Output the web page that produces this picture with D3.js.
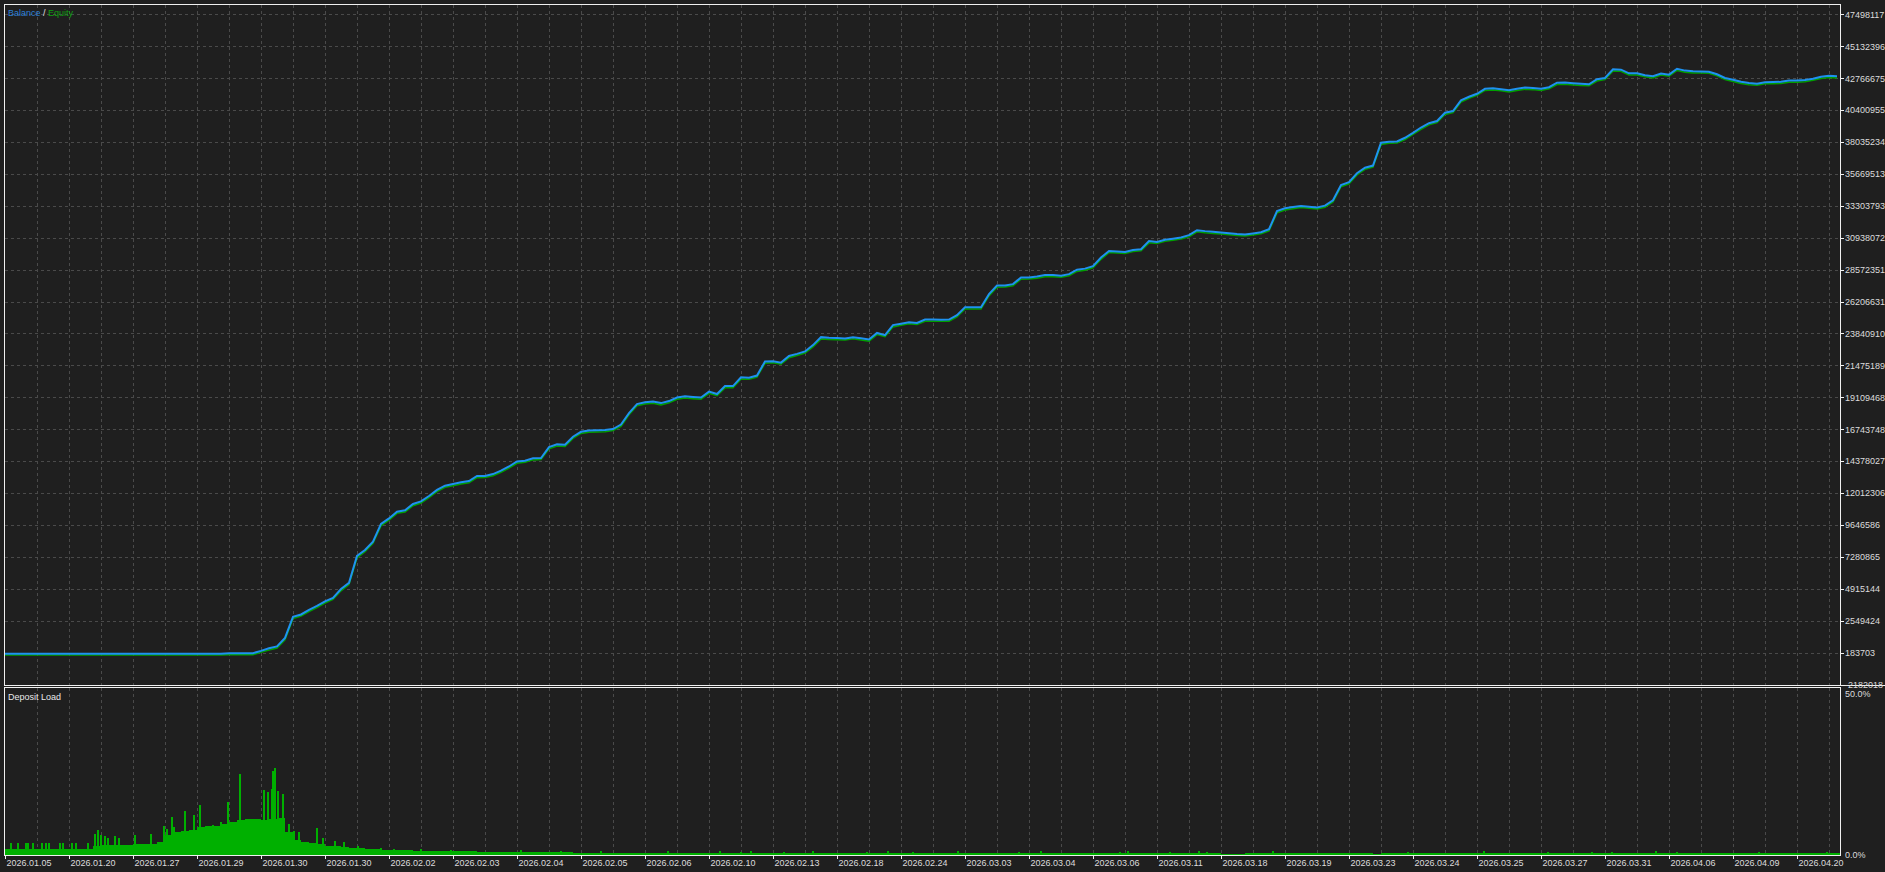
<!DOCTYPE html>
<html><head><meta charset="utf-8">
<script src="https://cdn.jsdelivr.net/npm/d3@7"></script>
<style>
html,body{margin:0;padding:0;background:#1f1f1f;overflow:hidden}
svg{display:block}
text{font-family:"Liberation Sans",Arial,sans-serif;font-size:9px}
</style></head>
<body>
<svg id="chart" width="1885" height="872"></svg>
<script>
// ---------- data ----------
// balance / equity in millions, one sample every 8 deals
const sampleStep = 8;
const balance = [
0.10,0.10,0.10,0.10,0.10,0.10,0.10,0.10,0.10,0.10,0.10,0.10,0.10,0.10,0.10,0.10,0.10,0.10,0.10,0.10,
0.10,0.10,0.10,0.10,0.10,0.10,0.10,0.10,0.14,0.14,0.14,0.14,0.31,0.50,0.64,1.27,2.83,3.01,3.35,3.64,
3.98,4.24,4.90,5.35,7.35,7.79,8.41,9.72,10.13,10.63,10.73,11.20,11.39,11.79,12.24,12.56,12.68,12.81,12.90,13.28,
13.28,13.42,13.67,13.98,14.35,14.41,14.59,14.61,15.42,15.62,15.59,16.19,16.55,16.64,16.66,16.68,16.76,17.09,17.94,18.61,
18.74,18.79,18.68,18.83,19.09,19.18,19.13,19.09,19.53,19.35,19.94,19.94,20.59,20.56,20.72,21.76,21.79,21.68,22.17,22.33,
22.51,22.98,23.57,23.52,23.50,23.47,23.57,23.48,23.40,23.88,23.72,24.46,24.57,24.68,24.62,24.87,24.87,24.86,24.87,25.20,
25.78,25.78,25.78,26.76,27.39,27.40,27.50,28.00,28.00,28.06,28.17,28.17,28.13,28.24,28.57,28.65,28.83,29.47,29.96,29.92,
29.89,30.03,30.09,30.69,30.63,30.79,30.87,30.96,31.13,31.50,31.43,31.38,31.33,31.28,31.22,31.18,31.26,31.35,31.57,32.91,
33.12,33.21,33.30,33.24,33.19,33.32,33.72,34.85,35.06,35.72,36.13,36.29,37.98,38.06,38.08,38.35,38.72,39.11,39.43,39.59,
40.21,40.33,41.13,41.39,41.61,41.98,42.02,41.95,41.87,41.98,42.07,42.04,41.98,42.10,42.43,42.44,42.39,42.35,42.32,42.69,
42.78,43.43,43.40,43.13,43.13,42.99,42.91,43.12,43.03,43.47,43.33,43.28,43.27,43.25,43.06,42.78,42.65,42.50,42.41,42.36,
42.47,42.48,42.50,42.59,42.59,42.63,42.73,42.87,42.94,42.91];
const equity = [
0.00,0.00,0.00,0.00,0.00,0.00,0.00,0.00,0.00,0.00,0.00,0.00,0.00,0.00,0.00,0.00,0.00,0.00,0.00,0.00,
0.00,0.00,0.00,0.00,0.00,0.00,0.00,0.00,0.03,0.03,0.03,0.03,0.20,0.38,0.52,1.12,2.70,2.90,3.22,3.52,
3.86,4.12,4.76,5.22,7.20,7.66,8.28,9.58,10.01,10.51,10.61,11.07,11.27,11.67,12.12,12.44,12.56,12.69,12.78,13.15,
13.16,13.30,13.55,13.86,14.22,14.29,14.47,14.49,15.29,15.50,15.47,16.06,16.43,16.52,16.54,16.56,16.64,16.96,17.81,18.49,
18.62,18.67,18.55,18.71,18.96,19.06,19.01,18.97,19.40,19.23,19.81,19.82,20.46,20.44,20.60,21.63,21.67,21.56,22.04,22.21,
22.39,22.85,23.44,23.40,23.38,23.35,23.45,23.36,23.27,23.76,23.60,24.33,24.45,24.56,24.50,24.75,24.75,24.74,24.75,25.07,
25.66,25.66,25.65,26.63,27.27,27.28,27.38,27.87,27.88,27.94,28.05,28.05,28.01,28.12,28.44,28.53,28.71,29.34,29.84,29.80,
29.77,29.91,29.97,30.56,30.51,30.67,30.75,30.84,31.00,31.38,31.31,31.26,31.21,31.16,31.10,31.06,31.14,31.23,31.44,32.78,
33.00,33.09,33.18,33.12,33.07,33.20,33.59,34.72,34.94,35.59,36.01,36.17,37.85,37.94,37.96,38.22,38.60,38.98,39.31,39.47,
40.08,40.21,41.00,41.27,41.49,41.86,41.90,41.83,41.75,41.86,41.95,41.92,41.86,41.98,42.30,42.32,42.27,42.23,42.20,42.56,
42.66,43.30,43.28,43.01,43.01,42.87,42.79,43.00,42.91,43.34,43.21,43.16,43.15,43.13,42.94,42.66,42.53,42.38,42.29,42.24,
42.35,42.36,42.38,42.47,42.47,42.51,42.61,42.75,42.82,42.79];
// deposit load (%), same sampling
const depositLoad = [
1.7,1.7,1.7,1.7,1.7,1.7,1.7,1.7,1.7,1.7,1.8,2.8,3.0,3.0,3.1,3.1,3.3,3.4,3.4,4.0,
6.0,6.8,7.2,7.6,8.5,8.6,8.8,9.4,10.0,10.6,10.8,10.7,10.5,10.8,11.0,7.0,4.5,3.8,3.5,3.2,
2.8,2.6,2.4,2.2,2.0,1.8,1.7,1.6,1.5,1.4,1.4,1.3,1.3,1.2,1.2,1.2,1.1,1.1,1.1,1.0,
1.0,1.0,1.0,0.9,0.9,0.9,0.9,0.9,0.9,0.8,0.8,0.7,0.7,0.6,0.6,0.6,0.6,0.5,0.5,0.6,
0.5,0.5,0.6,0.5,0.5,0.5,0.6,0.5,0.5,0.5,0.5,0.6,0.5,0.5,0.5,0.6,0.5,0.5,0.5,0.5,
0.5,0.6,0.5,0.5,0.5,0.5,0.5,0.6,0.5,0.5,0.5,0.5,0.6,0.5,0.5,0.5,0.5,0.5,0.6,0.5,
0.5,0.5,0.5,0.5,0.5,0.6,0.5,0.5,0.5,0.5,0.5,0.5,0.6,0.5,0.5,0.5,0.5,0.5,0.6,0.5,
0.5,0.5,0.5,0.5,0.6,0.5,0.5,0.5,0.5,0.5,0.5,0.5,0.4,0.4,0.4,0.5,0.5,0.5,0.5,0.6,
0.5,0.5,0.5,0.5,0.5,0.5,0.5,0.6,0.5,0.5,0.5,0.4,0.5,0.5,0.5,0.5,0.5,0.6,0.5,0.5,
0.5,0.5,0.5,0.5,0.5,0.5,0.5,0.6,0.5,0.5,0.5,0.5,0.5,0.5,0.6,0.5,0.5,0.5,0.5,0.5,
0.5,0.5,0.6,0.5,0.5,0.5,0.5,0.5,0.5,0.5,0.5,0.5,0.5,0.5,0.5,0.6,0.5,0.5,0.5,0.5,
0.5,0.5,0.5,0.5,0.6,0.5,0.5,0.5,0.5,0.5];
// individual deal spikes: [deal number, load %]
const loadSpikes = [
[5,3.6],[12,3.6],[20,3.6],[22,3.6],[27,3.6],[36,3.6],[40,3.6],[43,3.6],[54,3.6],[57,3.6],[66,3.6],[70,3.6],[82,3.6],
[89,6.4],[92,7.6],[95,6.0],[99,5.6],[102,5.0],[109,5.7],[113,5.2],[129,6.0],[145,6.4],[158,8.7],[161,7.9],[166,11.4],
[168,8.5],[171,6.6],[179,13.2],[188,12.0],[194,15.0],[207,9.0],[215,10.0],[222,16.0],[234,24.4],[258,19.6],[262,18.9],
[266,19.8],[267,25.3],[269,26.2],[272,19.3],[277,18.4],[283,9.3],[288,7.2],[293,6.8],[311,8.0],[317,5.1],[329,4.2],
[338,3.9],[352,2.6],[375,2.1],[388,1.9],[415,1.8],[445,1.6],[515,1.5],[555,1.3],[595,1.2],[662,1.1],[714,1.2],[735,1.0],
[745,1.1],[778,1.0],[807,1.1],[861,1.0],[882,1.1],[907,1.0],[952,1.1],[1013,1.0],[1035,1.1],[1114,1.0],[1122,1.1],
[1164,1.0],[1193,1.1],[1201,1.0],[1267,1.1],[1402,1.0],[1478,1.1],[1542,1.0],[1586,1.0],[1606,1.0],[1650,1.1],
[1671,1.0],[1753,1.0],[1821,1.0]];
const totalDeals = 1835;
const labelEvery = 64, gridEvery = 32;
const dateLabels = ["2026.01.05","2026.01.20","2026.01.27","2026.01.29","2026.01.30","2026.01.30","2026.02.02",
"2026.02.03","2026.02.04","2026.02.05","2026.02.06","2026.02.10","2026.02.13","2026.02.18","2026.02.24","2026.03.03",
"2026.03.04","2026.03.06","2026.03.11","2026.03.18","2026.03.19","2026.03.23","2026.03.24","2026.03.25","2026.03.27",
"2026.03.31","2026.04.06","2026.04.09","2026.04.20"];
const yTickValues = [-2182018,183703,2549424,4915144,7280865,9646586,12012306,14378027,16743748,19109468,21475189,
23840910,26206631,28572351,30938072,33303793,35669513,38035234,40400955,42766675,45132396,47498117];
const loadTicks = [0,50];

// ---------- layout ----------
const W = 1885, H = 872;
const L = 4.5, R = 1840.5, mainTop = 4.5, mainBot = 685.5, subTop = 687.5, subBot = 855.5;
const bg = "#1f1f1f", gridCol = "#4a4a4a", frameCol = "#f0f0f0", textCol = "#dcdcdc";
const blue = "#1e92f0", green = "#00a000", barGreen = "#00b000";

const svg = d3.select("#chart");
svg.append("rect").attr("width",W).attr("height",H).attr("fill",bg);

const x = d3.scaleLinear().domain([0,totalDeals]).range([5,1840]);
const y = d3.scaleLinear().domain([-2256100,48231000]).range([mainBot,mainTop]);
const yl = d3.scaleLinear().domain([0,50]).range([855,688.5]);

const defs = svg.append("defs");
defs.append("clipPath").attr("id","cMain").append("rect").attr("x",L).attr("y",mainTop).attr("width",R-L).attr("height",mainBot-mainTop);
defs.append("clipPath").attr("id","cSub").append("rect").attr("x",L).attr("y",subTop).attr("width",R-L).attr("height",subBot-subTop);

// grid
const gridG = svg.append("g").attr("stroke",gridCol).attr("stroke-width",1).attr("stroke-dasharray","3,3").attr("shape-rendering","crispEdges");
const vgrid = d3.range(gridEvery, totalDeals-5, gridEvery);
gridG.selectAll("line.vm").data(vgrid).join("line").attr("x1",d=>Math.round(x(d))+0.5).attr("x2",d=>Math.round(x(d))+0.5).attr("y1",mainTop).attr("y2",mainBot);
gridG.selectAll("line.vs").data(vgrid).join("line").attr("x1",d=>Math.round(x(d))+0.5).attr("x2",d=>Math.round(x(d))+0.5).attr("y1",subTop).attr("y2",subBot);
gridG.selectAll("line.h").data(yTickValues.slice(1)).join("line").attr("x1",L).attr("x2",R).attr("y1",d=>Math.round(y(d))+0.5).attr("y2",d=>Math.round(y(d))+0.5);

// deposit load bars
const sub = svg.append("g").attr("clip-path","url(#cSub)");
sub.selectAll("rect.b").data(depositLoad).join("rect")
  .attr("x",(d,i)=>x(i*sampleStep)).attr("width",(d,i)=>x((i+1)*sampleStep)-x(i*sampleStep))
  .attr("y",d=>yl(d)).attr("height",d=>yl(0)-yl(d)).attr("fill",barGreen).attr("shape-rendering","crispEdges");
sub.selectAll("rect.s").data(loadSpikes).join("rect")
  .attr("x",d=>x(d[0])).attr("width",1.6)
  .attr("y",d=>yl(d[1])).attr("height",d=>yl(0)-yl(d[1])).attr("fill",barGreen).attr("shape-rendering","crispEdges");

// lines
const main = svg.append("g").attr("clip-path","url(#cMain)");
const line = d3.line().x((d,i)=>x(i*sampleStep)).y(d=>y(d*1e6));
main.append("path").datum(equity).attr("d",line).attr("fill","none").attr("stroke",green).attr("stroke-width",1.5);
main.append("path").datum(balance).attr("d",line).attr("fill","none").attr("stroke",blue).attr("stroke-width",2);

// frames
const fr = svg.append("g").attr("fill","none").attr("stroke",frameCol).attr("stroke-width",1).attr("shape-rendering","crispEdges");
fr.append("rect").attr("x",L).attr("y",mainTop).attr("width",R-L).attr("height",mainBot-mainTop);
fr.append("line").attr("x1",L).attr("x2",W).attr("y1",mainBot).attr("y2",mainBot);
fr.append("rect").attr("x",L).attr("y",subTop).attr("width",R-L).attr("height",subBot-subTop);

// y axis labels (main)
const ax = svg.append("g").attr("fill",textCol);
ax.selectAll("text.y").data(yTickValues).join("text").attr("x",1845).attr("y",d=>y(d)+3.3).text(d=>d);
fr.selectAll("line.yt").data(yTickValues.slice(1)).join("line").attr("x1",R).attr("x2",R+3).attr("y1",d=>Math.round(y(d))+0.5).attr("y2",d=>Math.round(y(d))+0.5);
// sub axis labels
ax.selectAll("text.l").data(loadTicks).join("text").attr("x",1845)
  .attr("y",d=> d===50 ? yl(d)+8.5 : yl(d)+3.3).text(d=>d.toFixed(1)+"%");

// x labels
const xt = d3.range(0, dateLabels.length).map(i=>i*labelEvery);
ax.selectAll("text.x").data(xt).join("text").attr("x",d=>x(d)+1.5).attr("y",866).text((d,i)=>dateLabels[i]);
fr.selectAll("line.xt").data(xt).join("line").attr("x1",d=>Math.round(x(d))+0.5).attr("x2",d=>Math.round(x(d))+0.5).attr("y1",subBot).attr("y2",subBot+3);

// legends
const lg = svg.append("text").attr("x",8).attr("y",16);
lg.append("tspan").attr("fill","#2a7fd8").text("Balance");
lg.append("tspan").attr("fill","#e0e0e0").text(" / ");
lg.append("tspan").attr("fill","#10a010").text("Equity");
svg.append("text").attr("x",8).attr("y",699.5).attr("fill","#e8e8e8").text("Deposit Load");
</script>
</body></html>
